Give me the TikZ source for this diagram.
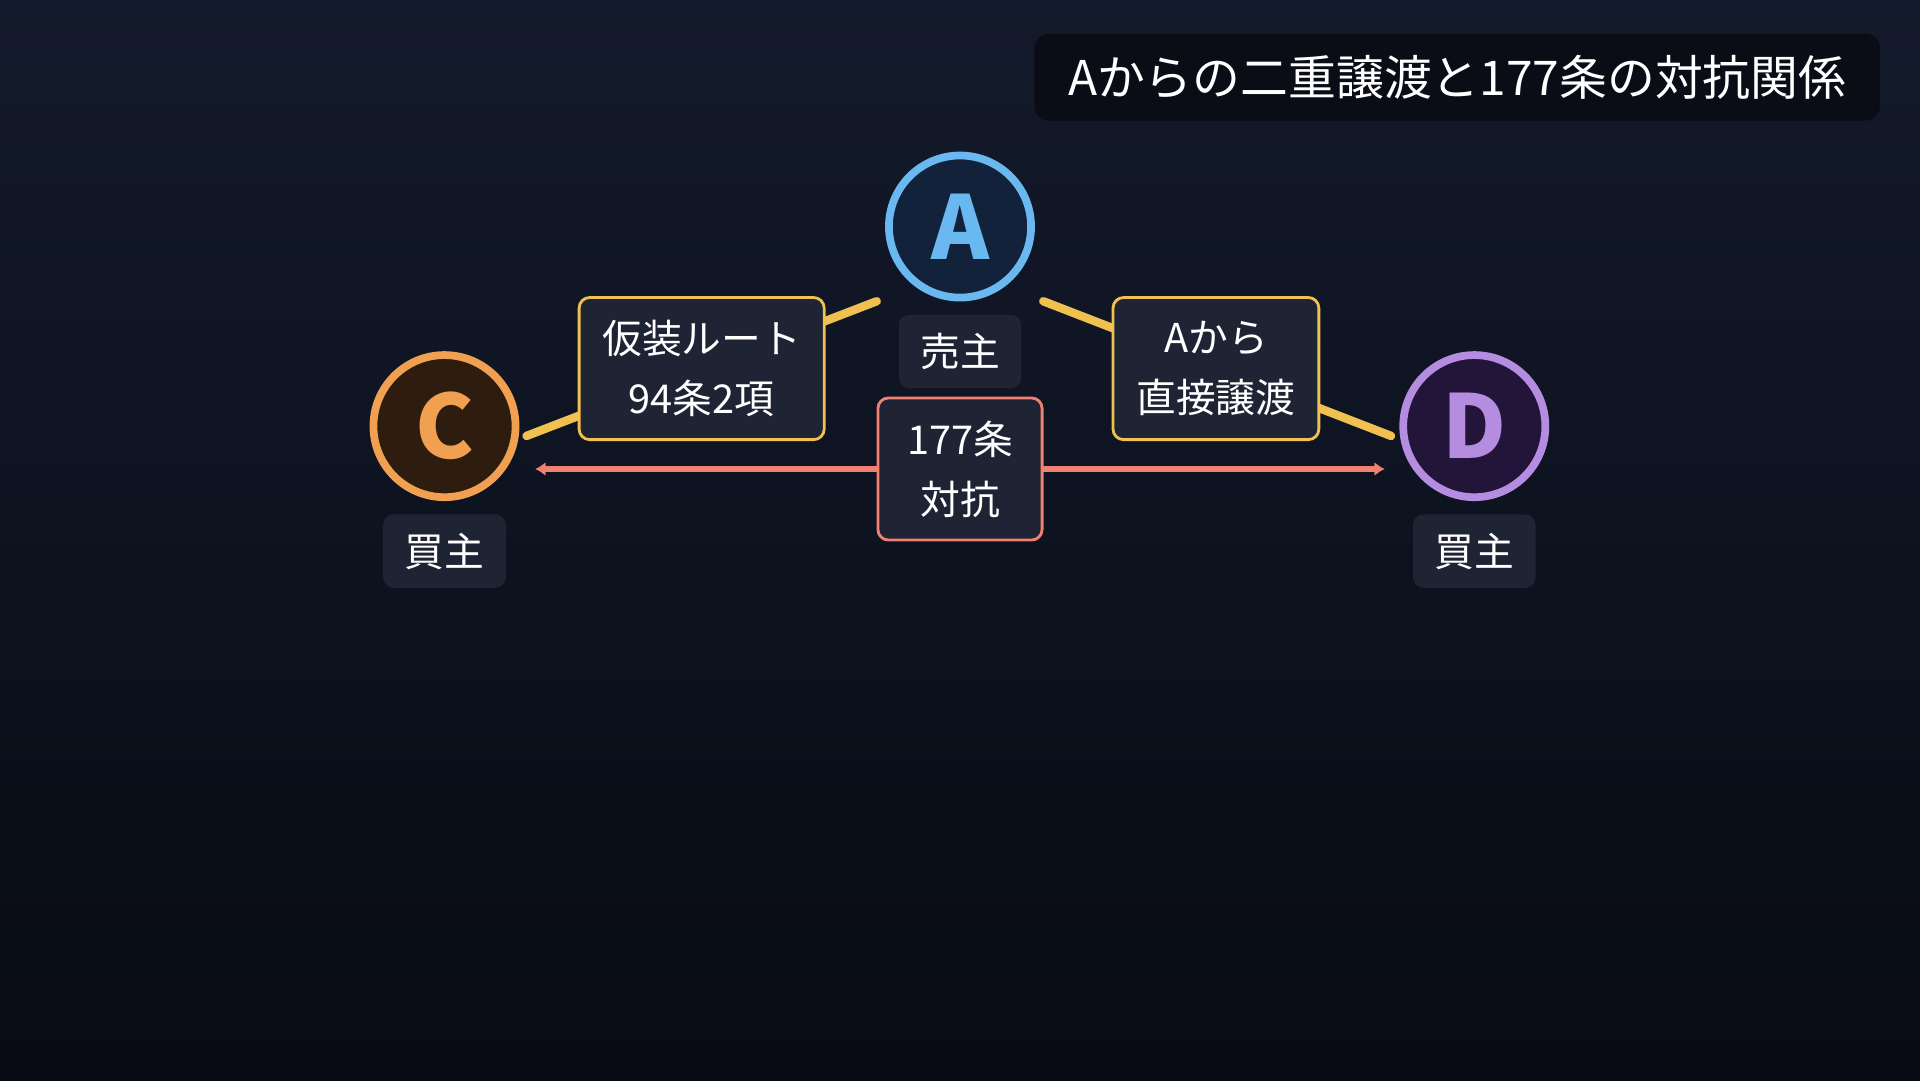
\documentclass[tikz,border=0pt]{standalone}
\usepackage{fontspec}
\setmainfont{Noto Sans CJK JP}
\usetikzlibrary{arrows.meta}
\definecolor{bgtop}{HTML}{131A2B}
\definecolor{bgbot}{HTML}{080B14}
\definecolor{boxbg}{HTML}{1F2435}
\definecolor{titlebg}{HTML}{0A0D15}
\definecolor{linkyel}{HTML}{F0C050}
\definecolor{linkred}{HTML}{F08070}
\definecolor{aline}{HTML}{6AB8F0}
\definecolor{afill}{HTML}{12223A}
\definecolor{cline}{HTML}{F0A050}
\definecolor{cfill}{HTML}{2E1D0E}
\definecolor{dline}{HTML}{B48CE0}
\definecolor{dfill}{HTML}{23143A}
\def\pu{0.3484pt}
\begin{document}
\begin{tikzpicture}[
    x = 0.012245cm, y = -0.012245cm,
    party/.style = {circle, line width = 2.2pt,
      minimum size = {116*\pu}, inner sep = 0pt,
      font = \fontsize{25}{25}\selectfont\bfseries},
    role/.style = {rounded corners = 3pt, fill = boxbg, text = white,
      minimum width = {100*\pu}, minimum height = {60*\pu},
      font = \fontsize{11.3}{12}\selectfont},
    tag/.style = {rounded corners = 3pt, fill = boxbg, text = white,
      draw, line width = 0.8pt, minimum height = {116*\pu}, align = center,
      font = \fontsize{11.3}{17}\selectfont},
    link/.style = {line width = 2.4pt, line cap = round, linkyel}
    ]

    % background
    \shade [top color = bgtop, bottom color = bgbot]
    (0, 0) rectangle (1568, 882);
    \useasboundingbox (0, 0) rectangle (1568, 882);

    % title
    \node at (1190, 63) [rounded corners = 4pt, fill = titlebg, text = white,
      minimum width = {690*\pu}, minimum height = {71*\pu},
      font = \fontsize{13.6}{14}\selectfont, name = title]
      {Aからの二重譲渡と177条の対抗関係};

    % parties
    \node at (784, 185) [party, draw = aline, fill = afill, text = aline, name = A] {A};
    \node at (363, 348) [party, draw = cline, fill = cfill, text = cline, name = C] {C};
    \node at (1204, 348) [party, draw = dline, fill = dfill, text = dline, name = D] {D};

    \node at (784, 287) [role, name = seller] {売主};
    \node at (363, 450) [role, name = buyerC] {買主};
    \node at (1204, 450) [role, name = buyerD] {買主};

    % links
    \coordinate (cA) at (430, 356);
    \coordinate (aC) at (716, 246);
    \coordinate (aD) at (852, 246);
    \coordinate (dA) at (1136, 356);
    \coordinate (cD) at (437, 383);
    \coordinate (dC) at (1131, 383);

    \draw [link] (cA) -- (aC);
    \draw [link] (aD) -- (dA);
    \draw [line width = 1.6pt, linkred,
      {Latex[length = 3pt, width = 4pt]}-{Latex[length = 3pt, width = 4pt]}]
      (cD) -- (dC);

    \node at (573, 301) [tag, draw = linkyel, minimum width = {200*\pu}, name = fake]
      {仮装ルート\\94条2項};
    \node at (993, 301) [tag, draw = linkyel, minimum width = {168*\pu}, name = direct]
      {Aから\\直接譲渡};
    \node at (784, 383) [tag, draw = linkred, minimum width = {134*\pu}, name = oppose]
      {177条\\対抗};
  \end{tikzpicture}
\end{document}
